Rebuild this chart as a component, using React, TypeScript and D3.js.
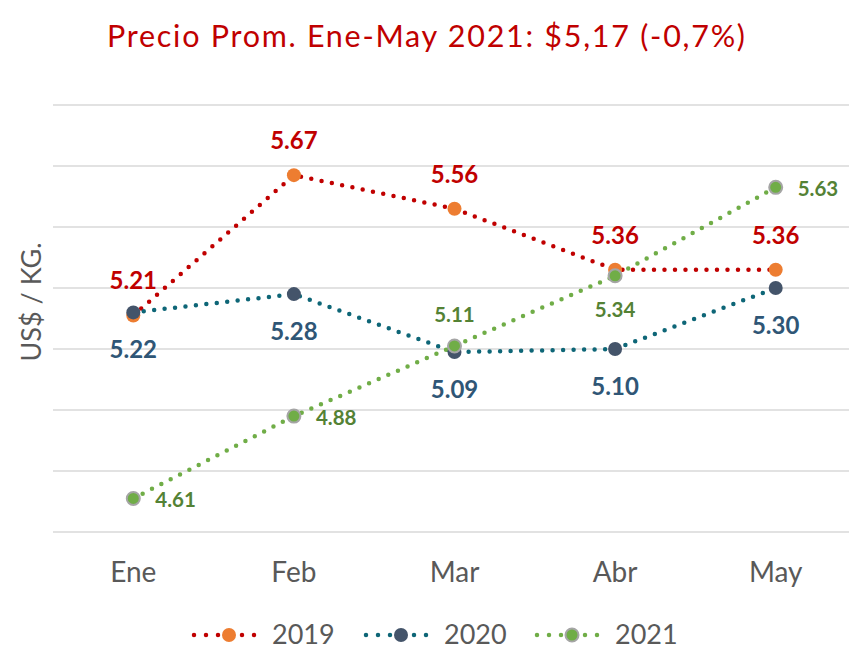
import React, { useEffect, useRef } from "react";
import * as d3 from "d3";

const months = ["Ene", "Feb", "Mar", "Abr", "May"];
const years = ["2019", "2020", "2021"];
const values2019 = [5.21, 5.67, 5.56, 5.36, 5.36];
const values2020 = [5.22, 5.28, 5.09, 5.1, 5.3];
const values2021 = [4.61, 4.88, 5.11, 5.34, 5.63];
const gridTicks = [4.5, 4.7, 4.9, 5.1, 5.3, 5.5, 5.7, 5.9];

const FONT = "Lato, 'Open Sans', sans-serif";

export default function App() {
  const ref = useRef<SVGSVGElement>(null);

  useEffect(() => {
    const w = 849;
    const h = 649;
    const svg = d3.select(ref.current);
    svg.selectAll("*").remove();

    const x = d3.scalePoint().domain(months).range([53, 856]).padding(0.5);
    const y = d3.scaleLinear().domain([4.5, 5.9]).range([532, 105]);

    svg.append("rect").attr("width", w).attr("height", h).attr("fill", "#fff");

    // title
    svg
      .append("text")
      .attr("x", 107)
      .attr("y", 47)
      .attr("textLength", 638)
      .attr("lengthAdjust", "spacing")
      .attr("font-family", FONT)
      .attr("font-size", 30.5)
      .attr("fill", "#C00000")
      .text("Precio Prom. Ene-May 2021: $5,17 (-0,7%)");

    // gridlines
    svg
      .append("g")
      .selectAll("line")
      .data(gridTicks)
      .enter()
      .append("line")
      .attr("x1", 53)
      .attr("x2", w)
      .attr("y1", d => y(d))
      .attr("y2", d => y(d))
      .attr("stroke", "#D9D9D9")
      .attr("stroke-width", 1.5);

    // y axis title
    svg
      .append("text")
      .attr("transform", "translate(41,302) rotate(-90)")
      .attr("text-anchor", "middle")
      .attr("font-family", FONT)
      .attr("font-size", 27)
      .attr("fill", "#595959")
      .text("US$ / KG.");

    // x labels
    svg
      .append("g")
      .selectAll("text")
      .data(months)
      .enter()
      .append("text")
      .attr("x", d => x(d)!)
      .attr("y", 582)
      .attr("text-anchor", "middle")
      .attr("font-family", FONT)
      .attr("font-size", 28)
      .attr("fill", "#595959")
      .text(d => d);

    const series = [
      { name: years[0], values: values2019, line: "#C00000", marker: "#ED7D31", ring: "none", label: "#C00000", size: 24 },
      { name: years[1], values: values2020, line: "#0E6677", marker: "#44546A", ring: "none", label: "#2F5676", size: 24 },
      { name: years[2], values: values2021, line: "#70AD47", marker: "#70AD47", ring: "#A5A5A5", label: "#548235", size: 20.5 }
    ];

    const place = [
      ["above", "above", "above", "above", "above"],
      ["below", "below", "below", "below", "below"],
      ["right", "right", "above", "below", "right"]
    ];

    const line = d3
      .line<number>()
      .x((d, i) => x(months[i])!)
      .y(d => y(d));

    series.forEach(s => {
      svg
        .append("path")
        .datum(s.values)
        .attr("d", line)
        .attr("fill", "none")
        .attr("stroke", s.line)
        .attr("stroke-width", 4.5)
        .attr("stroke-linecap", "round")
        .attr("stroke-dasharray", "0 10.5");
    });

    series.forEach(s => {
      svg
        .append("g")
        .selectAll("circle")
        .data(s.values)
        .enter()
        .append("circle")
        .attr("cx", (d, i) => x(months[i])!)
        .attr("cy", d => y(d))
        .attr("r", s.ring === "none" ? 7 : 6.5)
        .attr("fill", s.marker)
        .attr("stroke", s.ring)
        .attr("stroke-width", 2);
    });

    series.forEach((s, si) => {
      svg
        .append("g")
        .selectAll("text")
        .data(s.values)
        .enter()
        .append("text")
        .attr("x", (d, i) => {
          const p = place[si][i];
          return x(months[i])! + (p === "right" ? 22 : 0);
        })
        .attr("y", (d, i) => {
          const p = place[si][i];
          if (p === "above") return y(d) - (si === 2 ? 24 : 26);
          if (p === "below") return y(d) + (si === 2 ? 41 : 46);
          return y(d) + 9;
        })
        .attr("text-anchor", (d, i) => (place[si][i] === "right" ? "start" : "middle"))
        .attr("font-family", FONT)
        .attr("font-weight", "bold")
        .attr("font-size", s.size)
        .attr("fill", s.label)
        .text(d => d.toFixed(2));
    });

    // legend
    const legendX = [192, 364, 535];
    series.forEach((s, i) => {
      const g = svg.append("g").attr("transform", `translate(${legendX[i]},635)`);
      g.append("line")
        .attr("x1", 2)
        .attr("x2", 66)
        .attr("stroke", s.line)
        .attr("stroke-width", 4.5)
        .attr("stroke-linecap", "round")
        .attr("stroke-dasharray", "0 12");
      g.append("circle")
        .attr("cx", 37)
        .attr("r", s.ring === "none" ? 7 : 6.5)
        .attr("fill", s.marker)
        .attr("stroke", s.ring)
        .attr("stroke-width", 2);
      g.append("text")
        .attr("x", 80)
        .attr("y", 9)
        .attr("font-family", FONT)
        .attr("font-size", 27)
        .attr("fill", "#595959")
        .text(s.name);
    });
  }, []);

  return (
    <svg
      ref={ref}
      width={849}
      height={649}
      style={{ position: "fixed", left: 0, top: 0, display: "block" }}
    />
  );
}
